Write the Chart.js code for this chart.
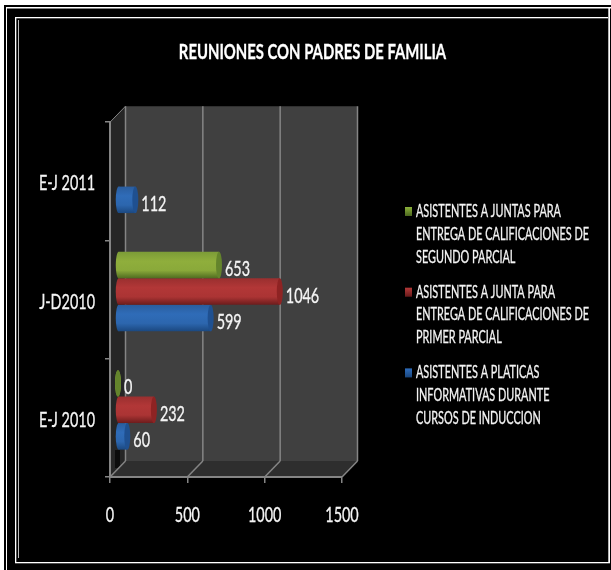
<!DOCTYPE html>
<html><head><meta charset="utf-8">
<style>html,body{margin:0;padding:0;background:#fff}canvas{display:block}</style>
<script src="https://cdn.jsdelivr.net/npm/chart.js@4"></script>
</head><body><canvas id="c" width="611" height="570"></canvas>
<script>
const categories = ["E-J 2011", "J-D2010", "E-J 2010"];
const juntaSegundo = [null, 653, 0];
const juntaPrimero = [null, 1046, 232];
const platicas = [112, 599, 60];
const titleText = "REUNIONES CON PADRES DE FAMILIA";
const legendSegundo = ["ASISTENTES A JUNTAS PARA", "ENTREGA DE CALIFICACIONES DE", "SEGUNDO PARCIAL"];
const legendPrimero = ["ASISTENTES A JUNTA PARA", "ENTREGA DE CALIFICACIONES DE", "PRIMER PARCIAL"];
const legendPlaticas = ["ASISTENTES A PLATICAS", "INFORMATIVAS DURANTE", "CURSOS DE INDUCCION"];
const xTicks = [0, 500, 1000, 1500];

const FONT = 'Lato, "Open Sans", sans-serif';
const TEXT = '#f4f4f4', LINE = '#858585';
const DX = 15.5, DY = 16;            // depth of the 3D box
const BX = 8, BY = -8;               // bars sit mid-depth
const CAP = 3;
const SIZE_AXIS = 22, SIZE_LEGEND = 17, SIZE_TITLE = 21;
// the reference's lettering is horizontally squeezed, by font size
const NARROW = {[SIZE_AXIS]: 0.655, [SIZE_LEGEND]: 0.64, [SIZE_TITLE]: 0.707};

const palettes = [
  {stops:['#7c9c37','#8fae3c','#8aa93a','#4f6b20'], cap:'#64842c', key:'#8fb53c'},
  {stops:['#9a2f2f','#b23737','#ab3434','#6c1c1c'], cap:'#8e2323', key:'#b83a3a'},
  {stops:['#2a5d9e','#2f6cb8','#2c66ae','#1b4880'], cap:'#1f5090', key:'#2f6fc0'}
];

function poly(ctx, pts, fill){
  ctx.beginPath();
  pts.forEach((p,i)=> i ? ctx.lineTo(p[0],p[1]) : ctx.moveTo(p[0],p[1]));
  ctx.closePath();
  ctx.fillStyle = fill; ctx.fill();
}
function seg(ctx,x1,y1,x2,y2,w){
  ctx.beginPath(); ctx.moveTo(x1,y1); ctx.lineTo(x2,y2);
  ctx.strokeStyle = LINE; ctx.lineWidth = w || 1.5; ctx.stroke();
}
function barGradient(ctx, el, pal){
  const h = el.height, top = el.y - h/2;
  const g = ctx.createLinearGradient(0, top, 0, top + h);
  g.addColorStop(0, pal.stops[0]);
  g.addColorStop(0.35, pal.stops[1]);
  g.addColorStop(0.7, pal.stops[2]);
  g.addColorStop(1, pal.stops[3]);
  return g;
}
const isReal = (chart, di, i) => chart.data.datasets[di].data[i] !== null;

const scene = {
  id: 'scene',
  afterLayout(chart){
    chart.titleBlock.left = 0;
    chart.titleBlock.right = 625;
  },
  beforeDraw(chart){
    const ctx = chart.ctx, W = chart.width, H = chart.height;
    ctx.save();
    ctx.fillStyle = '#fff'; ctx.fillRect(0,0,W,H);
    ctx.fillStyle = '#000'; ctx.fillRect(4,5,W-4,H-5);
    ctx.fillStyle = '#fff';
    ctx.fillRect(6,7,W-6,1.5);
    ctx.fillRect(6,7,1,H-7);
    ctx.fillRect(15,17,593,1.3);
    ctx.fillRect(15,17,1.3,545);
    ctx.fillRect(608.3,8,1.7,555);
    ctx.fillRect(15,562,595,1.3);
    ctx.fillStyle = '#bdbdbd';
    ctx.fillRect(18,20,1,538);
    const a = chart.chartArea, xs = chart.scales.x;
    poly(ctx, [[a.left+DX,a.top-DY],[a.right+DX,a.top-DY],[a.right+DX,a.bottom-DY],[a.left+DX,a.bottom-DY]], '#404040');
    poly(ctx, [[a.left,a.bottom],[a.right,a.bottom],[a.right+DX,a.bottom-DY],[a.left+DX,a.bottom-DY]], '#2e2e2e');
    poly(ctx, [[a.left,a.top],[a.left+DX,a.top-DY],[a.left+DX,a.bottom-DY],[a.left,a.bottom]], '#262626');
    ctx.fillStyle = '#0c0c0c';
    ctx.fillRect(a.left+5, a.bottom-27, 5, 18);
    seg(ctx,a.left,a.top,a.left+DX,a.top-DY,1);
    xTicks.forEach(v=>{
      const x = xs.getPixelForValue(v);
      seg(ctx,x+DX,a.top-DY,x+DX,a.bottom-DY);
      seg(ctx,x,a.bottom,x+DX,a.bottom-DY);
    });
    ctx.restore();
  },
  beforeDatasetDraw(chart, args){
    const ctx = chart.ctx, pal = palettes[args.index];
    ctx.save();
    ctx.translate(BX, BY);
    args.meta.data.forEach((el,i)=>{
      if(!isReal(chart,args.index,i)) return;
      const g = barGradient(ctx, el, pal);
      el.options = Object.assign({}, el.options, {backgroundColor:g});
      ctx.beginPath();
      ctx.ellipse(el.base, el.y, CAP, el.height/2, 0, 0, Math.PI*2);
      ctx.fillStyle = g; ctx.fill();
    });
  },
  afterDatasetDraw(chart, args){
    const ctx = chart.ctx, pal = palettes[args.index];
    args.meta.data.forEach((el,i)=>{
      if(!isReal(chart,args.index,i)) return;
      ctx.beginPath();
      ctx.ellipse(el.x, el.y, CAP, el.height/2, 0, 0, Math.PI*2);
      ctx.fillStyle = pal.cap; ctx.fill();
    });
    ctx.restore();
  },
  afterDatasetsDraw(chart){
    const ctx = chart.ctx;
    ctx.save();
    ctx.font = SIZE_AXIS + 'px ' + FONT;
    ctx.fillStyle = TEXT;
    ctx.textBaseline = 'middle';
    ctx.textAlign = 'left';
    chart.data.datasets.forEach((ds,di)=>{
      chart.getDatasetMeta(di).data.forEach((el,i)=>{
        if(ds.data[i] === null) return;
        ctx.fillText(String(ds.data[i]), el.x + BX + CAP + 3, el.y + BY + 4);
      });
    });
    ctx.font = SIZE_LEGEND + 'px ' + FONT;
    const startY = 211.5, lineH = 22.8, gap = 12.3;
    let y = startY;
    chart.data.datasets.forEach((ds,di)=>{
      const pal = palettes[di];
      const g = ctx.createLinearGradient(0,y-5,0,y+4);
      g.addColorStop(0,pal.key); g.addColorStop(1,pal.stops[3]);
      ctx.fillStyle = g;
      ctx.fillRect(405, y-4.5, 7, 9);
      ctx.fillStyle = TEXT;
      ds.legendLines.forEach((t,k)=> ctx.fillText(t, 416, y + k*lineH));
      y += 3*lineH + gap;
    });
    ctx.restore();
  }
};

const dataset = (label, data, lines, i) => ({
  label, data, legendLines: lines, backgroundColor: palettes[i].stops[1],
  borderWidth: 0, categoryPercentage: 0.672, barPercentage: 1, clip: false
});

const ctx2d = document.getElementById('c').getContext('2d');
const plainFillText = ctx2d.fillText.bind(ctx2d);
const plainStrokeText = ctx2d.strokeText.bind(ctx2d);
ctx2d.fillText = function(text, x, y){
  const m = /(\d+(?:\.\d+)?)px/.exec(ctx2d.font);
  const sx = (m && NARROW[Math.round(+m[1])]) || 0.7;
  ctx2d.save();
  ctx2d.translate(x, y);
  ctx2d.scale(sx, 1);
  plainFillText(text, 0, 0);
  ctx2d.strokeStyle = ctx2d.fillStyle;
  ctx2d.lineWidth = 0.3;
  plainStrokeText(text, 0, 0);
  ctx2d.restore();
};

new Chart(ctx2d, {
  type: 'bar',
  data: {
    labels: categories,
    datasets: [
      dataset(legendSegundo.join(' '), juntaSegundo, legendSegundo, 0),
      dataset(legendPrimero.join(' '), juntaPrimero, legendPrimero, 1),
      dataset(legendPlaticas.join(' '), platicas, legendPlaticas, 2)
    ]
  },
  plugins: [scene],
  options: {
    indexAxis: 'y',
    responsive: false,
    animation: false,
    layout: {padding: {left: 0, right: 269, top: 0, bottom: 0}},
    plugins: {
      legend: {display: false},
      tooltip: {enabled: false},
      title: {
        display: true, text: titleText, color: '#fff',
        font: {family: FONT, size: SIZE_TITLE, weight: 'bold', lineHeight: 1.2},
        padding: {top: 40, bottom: 57}
      }
    },
    scales: {
      x: {
        type: 'linear', min: 0, max: 1500,
        afterFit(s){ s.height = 93; },
        afterBuildTicks(s){ s.ticks = xTicks.map(v=>({value:v})); },
        grid: {drawOnChartArea: false, color: LINE, tickLength: 6, lineWidth: 1.5},
        border: {color: LINE, width: 2},
        ticks: {color: TEXT, font: {family: FONT, size: SIZE_AXIS}, padding: 19, maxRotation: 0, callback: v => String(v)}
      },
      y: {
        type: 'category',
        afterFit(s){ s.width = 110; },
        grid: {drawOnChartArea: false, color: LINE, tickLength: 5, lineWidth: 1.5, offset: true},
        border: {color: LINE, width: 2},
        ticks: {color: TEXT, font: {family: FONT, size: SIZE_AXIS}, padding: 10, labelOffset: 2}
      }
    }
  }
});
</script></body></html>
